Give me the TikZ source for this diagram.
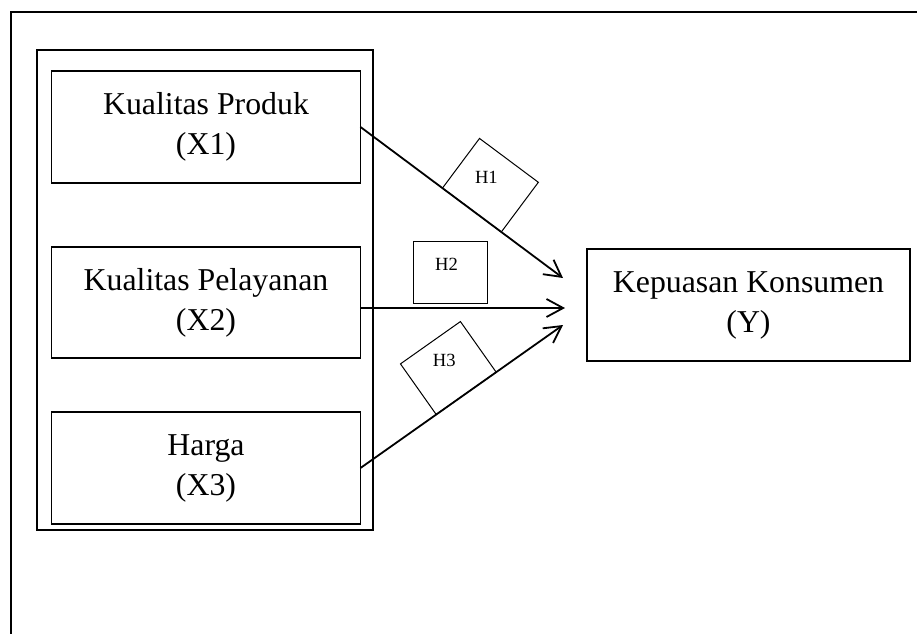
\documentclass[tikz,border=0pt]{standalone}
\usepackage{fontspec}
\setmainfont{Liberation Serif}
\usepackage{tikz}
\usetikzlibrary{positioning}
\usetikzlibrary{arrows.meta}
\tikzset{
  varbox/.style={draw,line width=0.6pt,minimum width=154.5pt,minimum height=56pt,align=center,inner sep=0,outer sep=0,font=\fontsize{15.9}{20}\selectfont},
  hbox/.style={draw,line width=0.5pt,minimum width=36.7pt,minimum height=31pt,inner sep=0,outer sep=0},
  hlabel/.style={font=\fontsize{9.3}{11}\selectfont,xshift=-2pt,yshift=4pt},
  path/.style={line width=0.9pt,-{Straight Barb[length=8.3pt,width=9pt]}}
}
\begin{document}
\begin{tikzpicture}[x=0.5pt,y=-0.5pt]
      \useasboundingbox (0,0) rectangle (917,634);
      \draw[line width=1pt] (917,12) -- (11,12) -- (11,634);
      \draw[line width=0.75pt] (37,50) rectangle (373,530);
      \node[varbox] (x1) at (206,127) {Kualitas Produk\\(X1)};
      \node[varbox,minimum height=55.5pt,below=32pt of x1] (x2) {Kualitas Pelayanan\\(X2)};
      \node[varbox,below=27pt of x2] (x3) {Harga\\(X3)};
      \node[varbox,minimum width=161.5pt] (y) at (748.5,305) {Kepuasan Konsumen\\(Y)};
      \coordinate (t1) at (563,278);
      \coordinate (t2) at (565,308);
      \coordinate (t3) at (563,325);
      \begin{scope}
        \draw[path] (x1.east) -- node[hbox,sloped,above,pos=0.55] (h1) {} (t1);
        \draw[path] ([yshift=-2.75pt]x2.east) -- node[hbox,above=2.5pt,pos=0.44] (h2) {} (t2);
        \draw[path] (x3.east) -- node[hbox,sloped,above,pos=0.522] (h3) {} (t3);
      \end{scope}
      \node[hlabel] at (h1) {H1};
      \node[hlabel] at (h2) {H2};
      \node[hlabel] at (h3) {H3};
    \end{tikzpicture}
\end{document}
